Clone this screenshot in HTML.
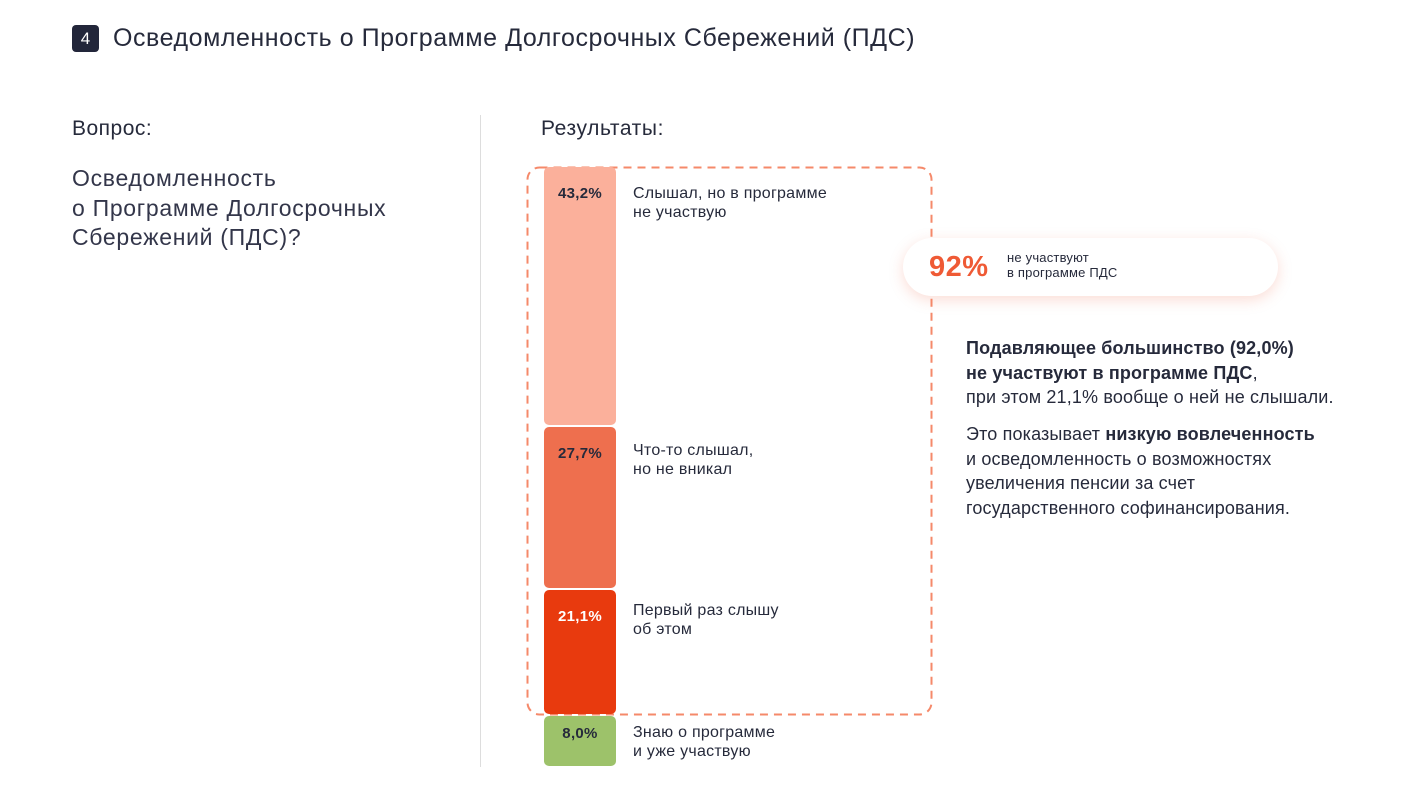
<!DOCTYPE html>
<html><head><meta charset="utf-8"><style>
*{margin:0;padding:0;box-sizing:border-box}
body{width:1415px;height:796px;background:#fff;position:relative;overflow:hidden;font-family:"Liberation Sans","Noto Sans CJK SC",sans-serif;color:#262a3b}
.a{position:absolute;white-space:nowrap}
.bar{position:absolute;left:544px;width:72px;border-radius:5px;text-align:center;font-weight:bold;font-size:15px;padding-top:18px;letter-spacing:0.3px}
.lab{position:absolute;left:633px;font-size:16px;line-height:19px;color:#262a3b;letter-spacing:0.25px}
.p{font-size:18px;line-height:24.5px;color:#262a3b;letter-spacing:0.15px}
</style></head><body>
<div class="a" style="left:72px;top:25px;width:27px;height:27px;background:#22263a;border-radius:4px;color:#fff;font-size:17px;text-align:center;line-height:27px">4</div>
<div class="a" style="left:113px;top:22px;font-size:25px;line-height:32px;letter-spacing:0.55px">Осведомленность о Программе Долгосрочных Сбережений (ПДС)</div>
<div class="a" style="left:72px;top:117px;font-size:21px;letter-spacing:0.5px">Вопрос:</div>
<div class="a" style="left:72px;top:164px;font-size:23px;line-height:29.5px;color:#33364a;letter-spacing:0.7px">Осведомленность<br>о Программе Долгосрочных<br>Сбережений (ПДС)?</div>
<div class="a" style="left:480px;top:115px;width:1px;height:652px;background:#ddd"></div>
<div class="a" style="left:541px;top:117px;font-size:21px;letter-spacing:0.6px">Результаты:</div>
<svg class="a" style="left:0;top:0" width="1415" height="796"><rect x="527.5" y="167.5" width="404" height="547" rx="12" fill="none" stroke="#f5896a" stroke-width="2" stroke-dasharray="8 6"/></svg>
<div class="bar" style="top:167px;height:258px;background:#fbb09b;color:#262a3b">43,2%</div>
<div class="bar" style="top:427px;height:161px;background:#ee6f4e;color:#262a3b">27,7%</div>
<div class="bar" style="top:590px;height:124px;background:#e83a0e;color:#fff">21,1%</div>
<div class="bar" style="top:716px;height:50px;background:#9dc26a;color:#262a3b;padding-top:9px">8,0%</div>
<div class="lab" style="top:184px">Слышал, но в программе<br>не участвую</div>
<div class="lab" style="top:441px">Что-то слышал,<br>но не вникал</div>
<div class="lab" style="top:601px">Первый раз слышу<br>об этом</div>
<div class="lab" style="top:723px">Знаю о программе<br>и уже участвую</div>
<div class="a" style="left:903px;top:238px;width:375px;height:58px;background:#fff;border-radius:29px;box-shadow:0 4px 14px rgba(240,120,90,0.25)"></div>
<div class="a" style="left:929px;top:248px;font-size:29px;font-weight:bold;color:#ef5a35;line-height:38px;letter-spacing:0.5px">92%</div>
<div class="a" style="left:1007px;top:250px;font-size:13px;line-height:15px;letter-spacing:0.2px">не участвуют<br>в программе ПДС</div>
<div class="a p" style="left:966px;top:336px"><b>Подавляющее большинство (92,0%)<br>не участвуют в программе ПДС</b>,<br>при этом 21,1% вообще о ней не слышали.</div>
<div class="a p" style="left:966px;top:422px">Это показывает <b>низкую вовлеченность</b><br>и осведомленность о возможностях<br>увеличения пенсии за счет<br>государственного софинансирования.</div>
</body></html>
